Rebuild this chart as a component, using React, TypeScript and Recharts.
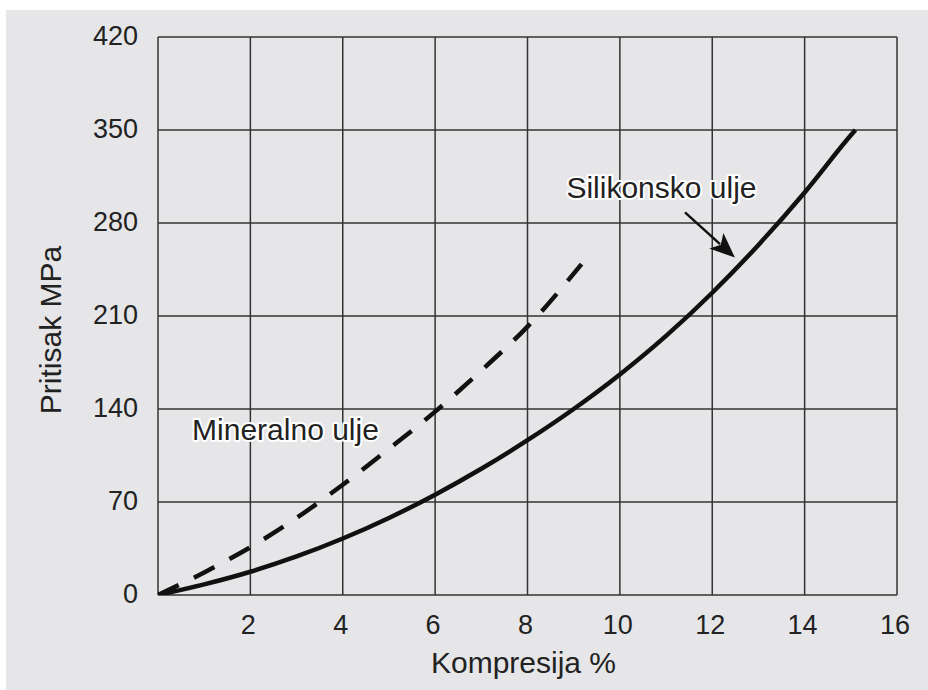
import React from "react";
import {
  LineChart,
  Line,
  XAxis,
  YAxis,
  CartesianGrid,
  ReferenceLine,
  ReferenceDot,
  Label,
} from "recharts";

const xTicks = [0, 2, 4, 6, 8, 10, 12, 14, 16];
const yTicks = [0, 70, 140, 210, 280, 350, 420];

const siliconeOil = [
  { x: 0, y: 0 },
  { x: 1, y: 8 },
  { x: 2, y: 17.5 },
  { x: 3, y: 29 },
  { x: 4, y: 42.5 },
  { x: 5, y: 58 },
  { x: 6, y: 75.5 },
  { x: 7, y: 95 },
  { x: 8, y: 116.5 },
  { x: 9, y: 140 },
  { x: 10, y: 166 },
  { x: 11, y: 195 },
  { x: 12, y: 227.5 },
  { x: 13, y: 263.5 },
  { x: 14, y: 303 },
  { x: 15, y: 346 },
  { x: 15.1, y: 350 },
];

const mineralOil = [
  { x: 0, y: 0 },
  { x: 1, y: 17 },
  { x: 2, y: 36 },
  { x: 3, y: 58 },
  { x: 4, y: 83 },
  { x: 5, y: 110 },
  { x: 6, y: 138 },
  { x: 7, y: 169 },
  { x: 8, y: 202 },
  { x: 9.17, y: 249 },
];

const siliconeLabel = { text: "Silikonsko ulje", x: 10.9, y: 306 };
const mineralLabel = { text: "Mineralno ulje", x: 2.76, y: 124 };
const arrowStart = { x: 11.41, y: 288 };
const arrowEnd = { x: 12.49, y: 254 };

const FONT = "'Liberation Sans', Arial, Helvetica, sans-serif";
const TICK_FS = 27;
const LABEL_FS = 30;
const TEXT = "#222";

const XTick = (props: any) => {
  const { x, y, payload } = props;
  if (payload.value === 0) return null;
  return (
    <text x={x - 2} y={y} dy={31} textAnchor="middle" fontFamily={FONT} fontSize={TICK_FS} fill={TEXT}>
      {payload.value}
    </text>
  );
};

const YTick = (props: any) => {
  const { x, y, payload } = props;
  return (
    <text x={x} y={y} dy={8} textAnchor="end" fontFamily={FONT} fontSize={TICK_FS} fill={TEXT}>
      {payload.value}
    </text>
  );
};

const haloText = (text: string) => (props: any) => {
  const { cx, cy } = props;
  return (
    <text
      x={cx}
      y={cy}
      dy={10}
      textAnchor="middle"
      fontFamily={FONT}
      fontSize={LABEL_FS}
      fill={TEXT}
      stroke="#ffffff"
      strokeWidth={4}
      strokeLinejoin="round"
      style={{ paintOrder: "stroke" }}
    >
      {text}
    </text>
  );
};

const ArrowShape = (props: any) => {
  const { x1, y1, x2, y2 } = props;
  if ([x1, y1, x2, y2].some((v) => typeof v !== "number")) return null;
  const dx = x2 - x1;
  const dy = y2 - y1;
  const len = Math.sqrt(dx * dx + dy * dy);
  const ux = dx / len;
  const uy = dy / len;
  const headLen = 25;
  const headW = 10.5;
  const bx = x2 - ux * headLen;
  const by = y2 - uy * headLen;
  const px = -uy;
  const py = ux;
  return (
    <g>
      <line x1={x1} y1={y1} x2={bx + ux * 5} y2={by + uy * 5} stroke="#111" strokeWidth={2.5} />
      <polygon
        points={`${x2},${y2} ${bx + px * headW},${by + py * headW} ${bx + ux * 6},${by + uy * 6} ${bx - px * headW},${by - py * headW}`}
        fill="#111"
      />
    </g>
  );
};

export default function App() {
  return (
    <div
      style={{
        position: "absolute",
        left: 0,
        top: 0,
        width: 928,
        height: 690,
        background: "#ffffff",
        overflow: "hidden",
      }}
    >
      <div
        style={{
          position: "absolute",
          left: 6,
          top: 10,
          right: 0,
          bottom: 0,
          background: "#e6e6e8",
        }}
      />
      <div style={{ position: "absolute", left: 0, top: 0 }}>
        <LineChart
          width={928}
          height={690}
          margin={{ top: 37, right: 31, bottom: 35, left: 58 }}
        >
          <CartesianGrid stroke="#333" strokeWidth={1.5} fill="none" />
          <XAxis
            type="number"
            dataKey="x"
            domain={[0, 16]}
            ticks={xTicks}
            axisLine={false}
            tickLine={false}
            tickMargin={2}
            tick={<XTick />}
            height={60}
            interval={0}
            allowDataOverflow
          >
            <Label
              content={(p: any) => {
                const vb = p.viewBox || {};
                return (
                  <text
                    x={vb.x + vb.width / 2 - 4}
                    y={673}
                    textAnchor="middle"
                    fontFamily={FONT}
                    fontSize={LABEL_FS}
                    fill={TEXT}
                  >
                    Kompresija %
                  </text>
                );
              }}
            />
          </XAxis>
          <YAxis
            type="number"
            dataKey="y"
            domain={[0, 420]}
            ticks={yTicks}
            axisLine={false}
            tickLine={false}
            tickMargin={14}
            tick={<YTick />}
            width={100}
            interval={0}
            allowDataOverflow
          >
            <Label
              content={() => (
                <text
                  x={0}
                  y={0}
                  transform="translate(61, 330) rotate(-90)"
                  textAnchor="middle"
                  fontFamily={FONT}
                  fontSize={LABEL_FS}
                  fill={TEXT}
                >
                  Pritisak MPa
                </text>
              )}
            />
          </YAxis>
          <Line
            data={mineralOil}
            dataKey="y"
            type="monotone"
            stroke="#111"
            strokeWidth={4.5}
            strokeDasharray="23 17"
            dot={false}
            activeDot={false}
            isAnimationActive={false}
          />
          <Line
            data={siliconeOil}
            dataKey="y"
            type="monotone"
            stroke="#111"
            strokeWidth={4.5}
            dot={false}
            activeDot={false}
            isAnimationActive={false}
          />
          <ReferenceLine
            segment={[arrowStart, arrowEnd]}
            shape={<ArrowShape />}
            ifOverflow="visible"
          />
          <ReferenceDot
            x={siliconeLabel.x}
            y={siliconeLabel.y}
            r={0}
            ifOverflow="visible"
            shape={haloText(siliconeLabel.text)}
          />
          <ReferenceDot
            x={mineralLabel.x}
            y={mineralLabel.y}
            r={0}
            ifOverflow="visible"
            shape={haloText(mineralLabel.text)}
          />
        </LineChart>
      </div>
    </div>
  );
}
